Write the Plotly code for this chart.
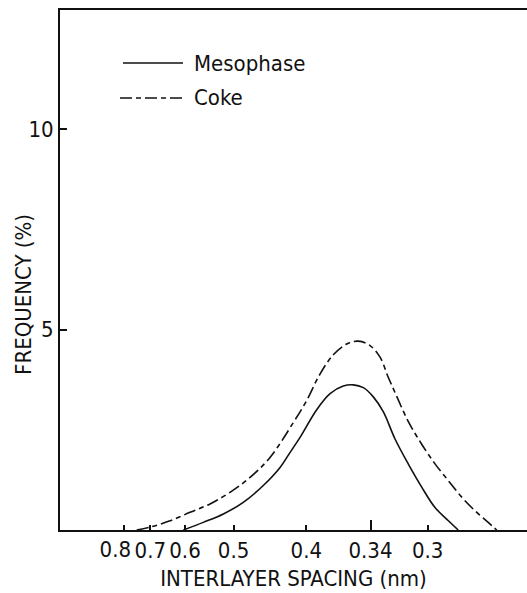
import plotly.graph_objects as go

# ---- data (interlayer spacing in nm, frequency in %) ----
spacing_ticks = [0.8, 0.7, 0.6, 0.5, 0.4, 0.34, 0.3]
spacing_labels = ["0.8", "0.7", "0.6", "0.5", "0.4", "0.34", "0.3"]
freq_ticks = [5, 10]
freq_labels = ["5", "10"]

meso_spacing = [0.604, 0.5579, 0.5181, 0.4838, 0.4536, 0.4311, 0.4188, 0.4070,
                0.3889, 0.3755, 0.3631, 0.3543, 0.3458, 0.3378, 0.3302, 0.3216,
                0.3125, 0.3037, 0.2955, 0.2877, 0.2822]
meso_freq = [0.0, 0.19, 0.40, 0.69, 1.11, 1.56, 1.93, 2.31,
             3.00, 3.40, 3.59, 3.62, 3.55, 3.32, 2.95, 2.27,
             1.65, 1.07, 0.56, 0.23, 0.0]

coke_spacing = [0.749, 0.7010, 0.6394, 0.5878, 0.5439, 0.5061, 0.4732, 0.4443,
                0.4148, 0.3996, 0.3855, 0.3724, 0.3600, 0.3500, 0.3404, 0.3326,
                0.3265, 0.3216, 0.3125, 0.3037, 0.2955, 0.2877, 0.2803, 0.2733,
                0.2667, 0.2626]
coke_freq = [0.0, 0.07, 0.23, 0.44, 0.65, 0.94, 1.31, 1.81,
             2.68, 3.23, 3.89, 4.37, 4.64, 4.71, 4.60, 4.31,
             3.81, 3.43, 2.71, 2.14, 1.65, 1.23, 0.82, 0.48,
             0.19, 0.0]

series_names = ["Mesophase", "Coke"]

# x axis is linear in reciprocal spacing (1/d)
def recip(vals):
    return [1.0 / v for v in vals]

FONT = "DejaVu Sans Condensed, DejaVu Sans, sans-serif"
BLACK = "#111111"
COKE_DASH = "12px,4px,5px,4px"
TICK_SIZE = 22

fig = go.Figure()
fig.add_trace(go.Scatter(x=recip(meso_spacing), y=meso_freq, mode="lines",
                         name=series_names[0],
                         line=dict(color=BLACK, width=1.6, shape="spline", smoothing=1.0),
                         showlegend=False))
fig.add_trace(go.Scatter(x=recip(coke_spacing), y=coke_freq, mode="lines",
                         name=series_names[1],
                         line=dict(color=BLACK, width=1.6, dash=COKE_DASH,
                                   shape="spline", smoothing=1.0),
                         showlegend=False))
# empty traces carrying the overlay axes (long 0.34 tick, shifted 0.8 label)
fig.add_trace(go.Scatter(x=[], y=[], xaxis="x2", showlegend=False, hoverinfo="skip"))
fig.add_trace(go.Scatter(x=[], y=[], xaxis="x3", showlegend=False, hoverinfo="skip"))

W, H = 527, 593
L, R, T, B = 60, 0, 10, 63
pw, ph = W - L - R, H - T - B

def px(xp):
    return (xp - L) / pw

def py(yp):
    return (H - B - yp) / ph

xr = [0.808, 4.016]
main_labels = [("" if v == 0.8 else t) for v, t in zip(spacing_ticks, spacing_labels)]

fig.update_layout(
    width=W, height=H,
    margin=dict(l=L, r=R, t=T, b=B),
    paper_bgcolor="white", plot_bgcolor="white",
    font=dict(family=FONT, color=BLACK, size=21),
    xaxis=dict(range=xr, tickvals=recip(spacing_ticks), ticktext=main_labels,
               ticks="inside", ticklen=5, tickwidth=1.5, tickcolor=BLACK, tickangle=0,
               showline=True, linewidth=1.8, linecolor=BLACK, mirror=True,
               showgrid=False, zeroline=False, tickfont=dict(size=TICK_SIZE),
               title=dict(text="INTERLAYER SPACING (nm)", font=dict(size=22), standoff=8)),
    xaxis2=dict(range=xr, overlaying="x", anchor="y", side="bottom",
                tickvals=[1.0 / 0.34], ticks="inside", ticklen=10, tickwidth=1.5,
                tickcolor=BLACK, showticklabels=False, showline=False,
                showgrid=False, zeroline=False),
    xaxis3=dict(range=xr, overlaying="x", anchor="y", side="bottom",
                tickvals=[1.0 / 0.8], ticktext=[spacing_labels[0]],
                ticks="inside", ticklen=5, tickwidth=1.5, tickcolor="rgba(0,0,0,0)",
                ticklabelshift=-9, ticklabelstandoff=4, tickangle=0,
                tickfont=dict(size=TICK_SIZE),
                showline=False, showgrid=False, zeroline=False),
    yaxis=dict(range=[0, 12.97], tickvals=freq_ticks, ticktext=freq_labels,
               ticks="inside", ticklen=7, tickwidth=1.5, tickcolor=BLACK,
               showline=True, linewidth=1.8, linecolor=BLACK, mirror=False,
               showgrid=False, zeroline=False, tickfont=dict(size=TICK_SIZE)),
)

# y axis title
fig.add_annotation(text="FREQUENCY (%)", xref="paper", yref="paper",
                   x=px(23), y=py(295), xanchor="center", yanchor="middle",
                   textangle=-90, showarrow=False,
                   font=dict(size=22, family=FONT, color=BLACK))

# legend drawn inside the plot
fig.add_shape(type="line", xref="paper", yref="paper", x0=px(123), x1=px(183),
              y0=py(63), y1=py(63), line=dict(color=BLACK, width=1.6))
fig.add_shape(type="line", xref="paper", yref="paper", x0=px(120), x1=px(183),
              y0=py(98), y1=py(98), line=dict(color=BLACK, width=1.6, dash=COKE_DASH))
fig.add_annotation(text=series_names[0], xref="paper", yref="paper", x=px(192), y=py(64),
                   xanchor="left", yanchor="middle", showarrow=False,
                   font=dict(size=22, family=FONT, color=BLACK))
fig.add_annotation(text=series_names[1], xref="paper", yref="paper", x=px(192), y=py(98),
                   xanchor="left", yanchor="middle", showarrow=False,
                   font=dict(size=22, family=FONT, color=BLACK))

fig.write_html("out.html")
